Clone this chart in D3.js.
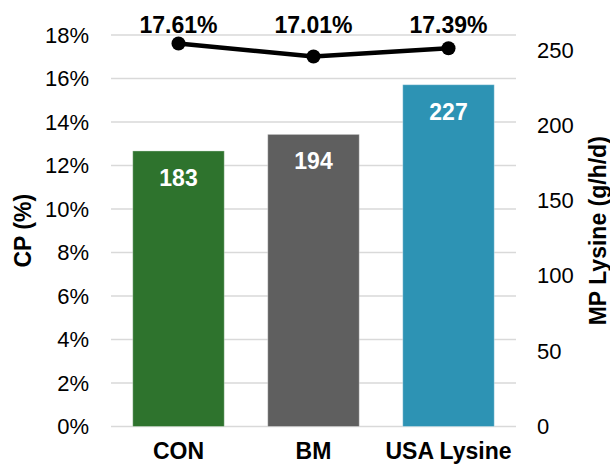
<!DOCTYPE html>
<html>
<head>
<meta charset="utf-8">
<script src="https://cdn.jsdelivr.net/npm/d3@7"></script>
<style>
  html, body { margin: 0; padding: 0; background: #fff; }
  svg { display: block; font-family: "Liberation Sans", Arial, Helvetica, sans-serif; }
</style>
</head>
<body>
<svg id="chart" width="610" height="465"></svg>
<script>
// Treatments and their measured values
const categories = ["CON", "BM", "USA Lysine"];
const mpLysine = [183, 194, 227];          // bars, right axis (g/h/d)
const crudeProtein = [17.61, 17.01, 17.39]; // line, left axis (%)
const barColors = ["#2e732d", "#5f5f5f", "#2d93b4"];

const cpTicks = [0, 2, 4, 6, 8, 10, 12, 14, 16, 18];
const lysTicks = [0, 50, 100, 150, 200, 250];

const svg = d3.select("#chart");
const plot = { left: 111, right: 516, top: 35, bottom: 426.5 };

const x = d3.scaleBand()
  .domain(categories)
  .range([plot.left, plot.right])
  .paddingInner(0.322)
  .paddingOuter(0.161);

const yCP = d3.scaleLinear().domain([0, 18]).range([plot.bottom, plot.top]);
const yLys = d3.scaleLinear().domain([0, 260]).range([plot.bottom, plot.top]);

// Horizontal gridlines on the CP scale
svg.append("g")
  .selectAll("line")
  .data(cpTicks)
  .join("line")
  .attr("x1", plot.left)
  .attr("x2", plot.right)
  .attr("y1", d => yCP(d))
  .attr("y2", d => yCP(d))
  .attr("stroke", "#d9d9d9")
  .attr("stroke-width", 1.5);

// Left axis (CP %)
const leftAxis = svg.append("g")
  .attr("transform", `translate(${plot.left},0)`)
  .call(d3.axisLeft(yCP).tickValues(cpTicks).tickFormat(d => d + "%").tickSize(0).tickPadding(22));
leftAxis.select(".domain").remove();
leftAxis.selectAll("text")
  .attr("font-size", 22)
  .attr("fill", "#000")
  .attr("font-family", "Liberation Sans, Arial, sans-serif");

// Right axis (MP Lysine)
const rightAxis = svg.append("g")
  .attr("transform", `translate(${plot.right},0)`)
  .call(d3.axisRight(yLys).tickValues(lysTicks).tickSize(0).tickPadding(21));
rightAxis.select(".domain").remove();
rightAxis.selectAll("text")
  .attr("font-size", 22)
  .attr("fill", "#000")
  .attr("font-family", "Liberation Sans, Arial, sans-serif");

// Bars for MP lysine
svg.append("g")
  .selectAll("rect")
  .data(mpLysine)
  .join("rect")
  .attr("x", (d, i) => x(categories[i]))
  .attr("width", x.bandwidth())
  .attr("y", d => yLys(d))
  .attr("height", d => yLys(0) - yLys(d))
  .attr("fill", (d, i) => barColors[i])
  .attr("stroke", "rgba(255,255,255,0.35)")
  .attr("stroke-width", 1);

// Bar value labels
svg.append("g")
  .selectAll("text")
  .data(mpLysine)
  .join("text")
  .attr("x", (d, i) => x(categories[i]) + x.bandwidth() / 2)
  .attr("y", d => yLys(d) + 35)
  .attr("text-anchor", "middle")
  .attr("font-size", 23)
  .attr("font-weight", "bold")
  .attr("fill", "#fff")
  .text(d => d);

// CP line with markers
const line = d3.line()
  .x((d, i) => x(categories[i]) + x.bandwidth() / 2)
  .y(d => yCP(d));

svg.append("path")
  .datum(crudeProtein)
  .attr("d", line)
  .attr("fill", "none")
  .attr("stroke", "#000")
  .attr("stroke-width", 4.5)
  .attr("stroke-linejoin", "round");

svg.append("g")
  .selectAll("circle")
  .data(crudeProtein)
  .join("circle")
  .attr("cx", (d, i) => x(categories[i]) + x.bandwidth() / 2)
  .attr("cy", d => yCP(d))
  .attr("r", 7)
  .attr("fill", "#000");

// CP value labels along the top
svg.append("g")
  .selectAll("text")
  .data(crudeProtein)
  .join("text")
  .attr("x", (d, i) => x(categories[i]) + x.bandwidth() / 2)
  .attr("y", yCP(18) - 2)
  .attr("text-anchor", "middle")
  .attr("font-size", 23)
  .attr("font-weight", "bold")
  .attr("fill", "#000")
  .text(d => d.toFixed(2) + "%");

// Category labels
svg.append("g")
  .selectAll("text")
  .data(categories)
  .join("text")
  .attr("x", d => x(d) + x.bandwidth() / 2)
  .attr("y", 459)
  .attr("text-anchor", "middle")
  .attr("font-size", 23)
  .attr("font-weight", "bold")
  .attr("fill", "#000")
  .text(d => d);

// Axis titles
svg.append("text")
  .attr("transform", `translate(31,${(plot.top + plot.bottom) / 2}) rotate(-90)`)
  .attr("text-anchor", "middle")
  .attr("font-size", 23)
  .attr("font-weight", "bold")
  .text("CP (%)");

svg.append("text")
  .attr("transform", `translate(606,${(plot.top + plot.bottom) / 2}) rotate(-90)`)
  .attr("text-anchor", "middle")
  .attr("font-size", 23)
  .attr("font-weight", "bold")
  .text("MP Lysine (g/h/d)");
</script>
</body>
</html>
